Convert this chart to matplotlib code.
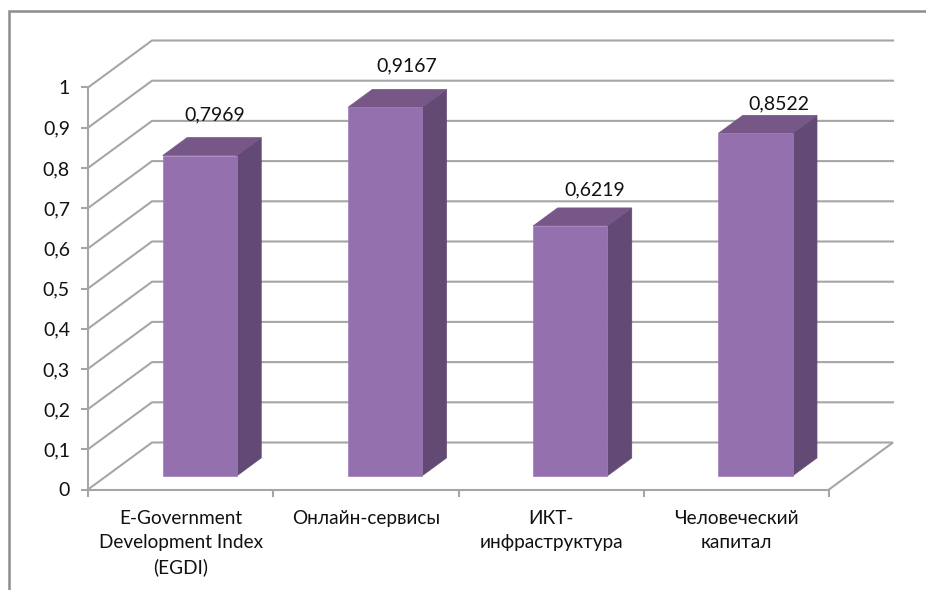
import matplotlib
matplotlib.use("Agg")
import matplotlib.pyplot as plt
from matplotlib.patches import Polygon
from matplotlib.lines import Line2D

plt.rcParams['font.family'] = ['Lato', 'Open Sans', 'DejaVu Sans']

categories = ["E-Government\nDevelopment Index\n(EGDI)", "Онлайн-сервисы",
              "ИКТ-\nинфраструктура", "Человеческий\nкапитал"]
values = [0.7969, 0.9167, 0.6219, 0.8522]
value_labels = ["0,7969", "0,9167", "0,6219", "0,8522"]
y_ticks = [0, 0.1, 0.2, 0.3, 0.4, 0.5, 0.6, 0.7, 0.8, 0.9, 1]
y_tick_labels = ["0", "0,1", "0,2", "0,3", "0,4", "0,5", "0,6", "0,7", "0,8", "0,9", "1"]

W, H = 926, 590
L, R, B, T = 88, 829, 489.5, 87.5
fig = plt.figure(figsize=(W / 100, H / 100), dpi=100)
ax = fig.add_axes([L / W, 1 - B / H, (R - L) / W, (B - T) / H])
ax.set_xlim(0, 4)
ax.set_ylim(0, 1)
ax.patch.set_alpha(0)

GRID = "#A6A6A6"
DX = 64 / ((R - L) / 4)
DY = 47 / (B - T)

def P(x, v, d):
    return (x + d * DX, v + d * DY)

for v in y_ticks:
    xs, ys = zip(P(0, v, 0), P(0, v, 1), P(4, v, 1))
    if v == 0:
        xs, ys = zip(P(0, v, 0), P(0, v, 1), P(4, v, 1), P(4, v, 0))
    ax.add_line(Line2D(xs, ys, color=GRID, lw=1.5, clip_on=False, zorder=1,
                       solid_joinstyle='miter'))

D0, D1 = 0.29, 0.672
WIDTH = 0.4
SHIFT = 0.003
OFFS = [(15, 41), (22, 41), (25, 36), (23, 29)]
for i, v in enumerate(values):
    x0 = i + 0.5 - WIDTH / 2 + SHIFT
    x1 = x0 + WIDTH
    ax.add_patch(Polygon([P(x1, 0, D0), P(x1, 0, D1), P(x1, v, D1), P(x1, v, D0)],
                         fc="#634A74", ec="#634A74", lw=0.5, clip_on=False, zorder=3))
    ax.add_patch(Polygon([P(x0, v, D0), P(x1, v, D0), P(x1, v, D1), P(x0, v, D1)],
                         fc="#775787", ec="#775787", lw=0.5, clip_on=False, zorder=3))
    ax.add_patch(Polygon([P(x0, 0, D0), P(x1, 0, D0), P(x1, v, D0), P(x0, v, D0)],
                         fc="#9570AE", ec="#9F7DB5", lw=0.5, clip_on=False, zorder=4))
    fx, fy = P(i + 0.5 + SHIFT, v, D0)
    ax.annotate(value_labels[i], (fx, fy), xytext=(OFFS[i][0] * 0.72, OFFS[i][1] * 0.72),
                textcoords='offset points', ha='center', va='center', fontsize=14,
                color="#111111", zorder=6, annotation_clip=False)

for s in ('top', 'right'):
    ax.spines[s].set_visible(False)
for s in ('left', 'bottom'):
    ax.spines[s].set_color(GRID)
    ax.spines[s].set_linewidth(1.5)
    ax.spines[s].set_zorder(2)

ax.set_yticks(y_ticks)
ax.set_yticklabels(y_tick_labels, fontsize=14, color="#111111")
ax.tick_params(axis='y', length=5, width=1.5, color=GRID, pad=8)
ax.set_xticks([0, 1, 2, 3, 4])
ax.set_xticklabels([])
ax.tick_params(axis='x', which='major', length=5, width=1.5, color=GRID)
ax.set_xticks([0.5, 1.5, 2.5, 3.5], minor=True)
ax.set_xticklabels(categories, minor=True, fontsize=13.7, color="#111111",
                   linespacing=1.5, va='top')
ax.tick_params(axis='x', which='minor', length=0, pad=14.5)

fig.add_artist(Line2D([9 / W, 9 / W, 1], [0, 1 - 11 / H, 1 - 11 / H], color="#8C8C8C",
                      lw=1.8, solid_joinstyle='miter'))

fig.savefig("out.png", dpi=100)
